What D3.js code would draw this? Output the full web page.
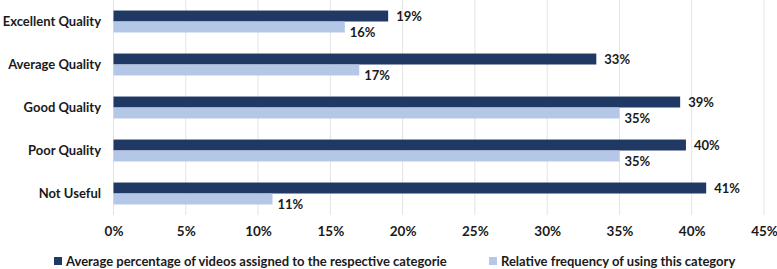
<!DOCTYPE html>
<html>
<head>
<meta charset="utf-8">
<script src="https://cdn.jsdelivr.net/npm/d3@7"></script>
<style>
  body { margin: 0; background: #fff; }
  text { font-family: Lato, "Open Sans", sans-serif; font-weight: bold; fill: #1a1a1a; }
</style>
</head>
<body>
<div id="chart"></div>
<script>
// data
const categories = ["Excellent Quality", "Average Quality", "Good Quality", "Poor Quality", "Not Useful"];
const avgPercentage = [0.19, 0.334, 0.392, 0.396, 0.41];
const relFrequency = [0.16, 0.17, 0.35, 0.35, 0.11];
const xTicks = [0, 0.05, 0.10, 0.15, 0.20, 0.25, 0.30, 0.35, 0.40, 0.45];
const seriesNames = ["Average percentage of videos assigned to the respective categorie",
                     "Relative frequency of using this category"];
const colors = ["#203864", "#b4c7e7"];

const width = 777, height = 269;

const svg = d3.select("#chart")
    .append("svg")
    .attr("width", width)
    .attr("height", height);

const x = d3.scaleLinear()
    .domain([0, 0.45])
    .range([113.5, 764]);

const y = d3.scaleBand()
    .domain(categories)
    .range([0, 215])
    .paddingInner(0.49)
    .paddingOuter(0.245);

const sub = d3.scaleBand()
    .domain([0, 1])
    .range([0, y.bandwidth()]);

// gridlines
svg.append("g")
    .selectAll("line")
    .data(xTicks)
    .join("line")
    .attr("x1", d => x(d))
    .attr("x2", d => x(d))
    .attr("y1", 0)
    .attr("y2", 215)
    .attr("stroke", "#e3e3e3")
    .attr("stroke-width", 1);

// x axis labels
svg.append("g")
    .attr("transform", "translate(0,218)")
    .call(d3.axisBottom(x).tickValues(xTicks).tickFormat(d3.format(".0%")).tickSize(0).tickPadding(8))
    .call(g => g.select(".domain").remove())
    .selectAll("text")
    .style("font-size", "13.5px")
    .style("font-family", "Lato, sans-serif")
    .style("font-weight", "bold")
    .attr("fill", "#1a1a1a");

// category labels
svg.append("g")
    .selectAll("text")
    .data(categories)
    .join("text")
    .attr("x", 101)
    .attr("y", d => y(d) + y.bandwidth() / 2)
    .attr("dy", "0.35em")
    .attr("text-anchor", "end")
    .style("font-size", "13px")
    .text(d => d);

const series = [avgPercentage, relFrequency];

series.forEach((vals, s) => {
    svg.append("g")
        .selectAll("rect")
        .data(vals)
        .join("rect")
        .attr("x", x(0))
        .attr("y", (d, i) => y(categories[i]) + sub(s))
        .attr("width", d => x(d) - x(0))
        .attr("height", sub.bandwidth())
        .attr("fill", colors[s]);

    svg.append("g")
        .selectAll("text")
        .data(vals)
        .join("text")
        .attr("x", d => x(d) + (s === 0 ? 8 : 5))
        .attr("y", (d, i) => y(categories[i]) + sub(s) + sub.bandwidth() / 2 + (s === 0 ? 0 : 5))
        .attr("dy", "0.35em")
        .style("font-size", "13px")
        .text(d => d3.format(".0%")(d));
});

// legend
const legendX = [54, 489];
seriesNames.forEach((name, s) => {
    svg.append("rect")
        .attr("x", legendX[s])
        .attr("y", 257)
        .attr("width", 8)
        .attr("height", 8)
        .attr("fill", colors[s]);
    svg.append("text")
        .attr("x", legendX[s] + 12)
        .attr("y", 261.5)
        .attr("dy", "0.35em")
        .style("font-size", "13px")
        .text(name);
});
</script>
</body>
</html>
